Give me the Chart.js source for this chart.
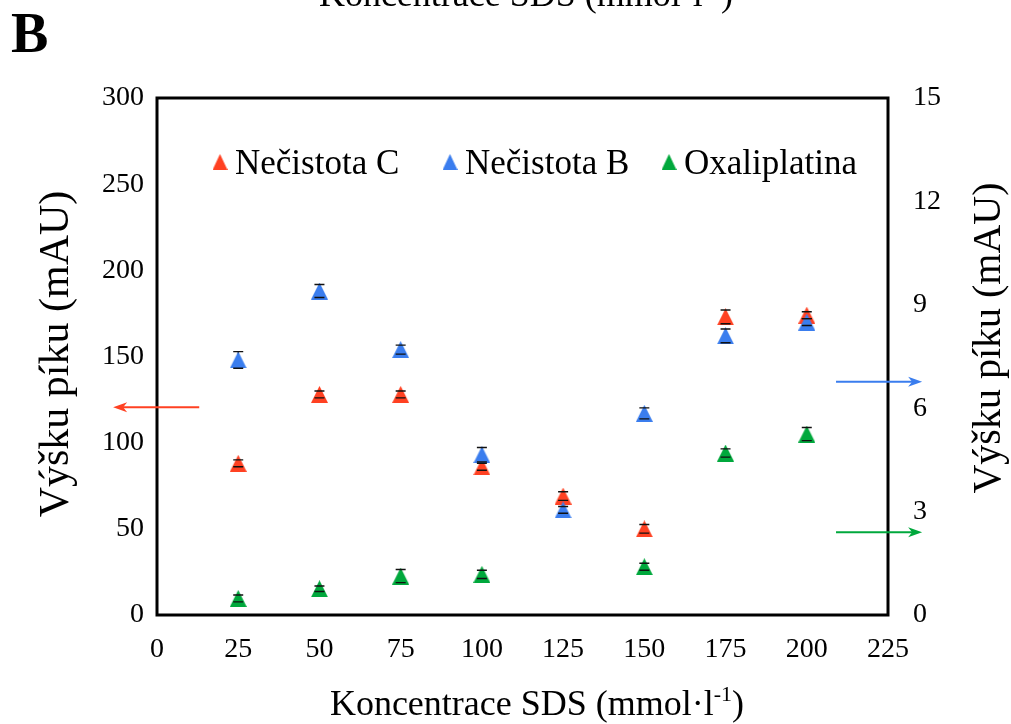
<!DOCTYPE html>
<html><head><meta charset="utf-8">
<script src="https://cdn.jsdelivr.net/npm/chart.js@4.4.1/dist/chart.umd.min.js"></script>
<style>html,body{margin:0;padding:0;background:#fff;overflow:hidden}#wrap{width:1011px;height:724px;position:relative}</style>
</head><body><div id="wrap"><canvas id="c" width="1011" height="724"></canvas></div>
<script>
// ---- data ----
const concentrations = [25, 50, 75, 100, 125, 150, 175, 200];
const necistotaC = [88, 128, 128, 86, 69, 50, 173, 174];          // left axis (mAU)
const necistotaCErr = [2, 2, 2, 2, 2.5, 2.5, 4, 2];
const necistotaB = [7.4, 9.4, 7.7, 4.65, 3.05, 5.85, 8.1, 8.5];     // right axis (mAU)
const necistotaBErr = [0.24, 0.19, 0.13, 0.21, 0.1, 0.16, 0.2, 0.1];
const oxaliplatina = [0.48, 0.76, 1.13, 1.18, null, 1.4, 4.7, 5.25]; // right axis (mAU)
const oxaliplatinaErr = [0.1, 0.08, 0.19, 0.12, null, 0.1, 0.12, 0.19];
const xTicks = [0, 25, 50, 75, 100, 125, 150, 175, 200, 225];
const leftTicks = [0, 50, 100, 150, 200, 250, 300];
const rightTicks = [0, 3, 6, 9, 12, 15];
const seriesNames = ['Nečistota C', 'Nečistota B', 'Oxaliplatina'];
const xTitle = 'Koncentrace SDS (mmol·l';
const xTitleSup = '-1';
const yTitle = 'Výšku píku (mAU)';
const panelLabel = 'B';

// ---- styles ----
const COLORS = ['#FF4122', '#3A7DEE', '#00A83C'];
const FONT = '"Liberation Serif", "Times New Roman", serif';

function triangleImage(color, w, h) {
  const cv = document.createElement('canvas');
  cv.width = w; cv.height = h;
  const g = cv.getContext('2d');
  g.fillStyle = color;
  g.beginPath(); g.moveTo(w / 2, 0); g.lineTo(w, h); g.lineTo(0, h); g.closePath(); g.fill();
  return cv;
}

const pts = (ys) => concentrations.map((x, i) => ({ x: x, y: ys[i] }));
const errs = [necistotaCErr, necistotaBErr, oxaliplatinaErr];

// annotation arrows (data coordinates of their axes)
const arrows = [
  { color: COLORS[0], axis: 'y', y: 120.5, from: 13, to: -13.5 },
  { color: COLORS[1], axis: 'y1', y: 6.77, from: 209, to: 235.5 },
  { color: COLORS[2], axis: 'y1', y: 2.4, from: 209, to: 235.5 }
];

function drawArrow(ctx, x0, y, x1, color) {
  const dir = Math.sign(x1 - x0);
  ctx.save();
  ctx.strokeStyle = color; ctx.fillStyle = color; ctx.lineWidth = 2;
  ctx.beginPath(); ctx.moveTo(x0, y); ctx.lineTo(x1 - dir * 8, y); ctx.stroke();
  ctx.beginPath();
  ctx.moveTo(x1, y);
  ctx.lineTo(x1 - dir * 14, y - 5);
  ctx.lineTo(x1 - dir * 10, y);
  ctx.lineTo(x1 - dir * 14, y + 5);
  ctx.closePath(); ctx.fill();
  ctx.restore();
}

function drawXTitle(ctx, cx, baseline, size) {
  ctx.save();
  ctx.fillStyle = '#000';
  ctx.textBaseline = 'alphabetic';
  ctx.textAlign = 'left';
  ctx.font = size + 'px ' + FONT;
  const w1 = ctx.measureText(xTitle).width;
  const w3 = ctx.measureText(')').width;
  ctx.font = Math.round(size * 0.62) + 'px ' + FONT;
  const w2 = ctx.measureText(xTitleSup).width;
  let x = cx - (w1 + w2 + w3) / 2;
  ctx.font = size + 'px ' + FONT;
  ctx.fillText(xTitle, x, baseline);
  x += w1;
  ctx.font = Math.round(size * 0.62) + 'px ' + FONT;
  ctx.fillText(xTitleSup, x, baseline - size * 0.38);
  x += w2;
  ctx.font = size + 'px ' + FONT;
  ctx.fillText(')', x, baseline);
  ctx.restore();
}

function eachErr(chart, fn) {
  const xs = chart.scales.x;
  chart.data.datasets.forEach((ds, i) => {
    const ys = chart.scales[ds.yAxisID];
    ds.data.forEach((p, j) => {
      const e = errs[i][j];
      if (p.y == null || e == null) return;
      fn(xs.getPixelForValue(p.x), ys.getPixelForValue(p.y + e), ys.getPixelForValue(p.y - e));
    });
  });
}

const decor = {
  id: 'decor',
  beforeDatasetsDraw(chart) {
    const ctx = chart.ctx;
    ctx.save();
    ctx.strokeStyle = '#000'; ctx.lineWidth = 1.2;
    eachErr(chart, (px, t, b) => {
      ctx.beginPath(); ctx.moveTo(px, t); ctx.lineTo(px, b); ctx.stroke();
    });
    ctx.restore();
  },
  afterDatasetsDraw(chart) {
    const ctx = chart.ctx;
    ctx.save();
    ctx.strokeStyle = '#111'; ctx.lineWidth = 1.4;
    eachErr(chart, (px, t, b) => {
      ctx.beginPath();
      ctx.moveTo(px - 5, t); ctx.lineTo(px + 5, t);
      ctx.moveTo(px - 5, b); ctx.lineTo(px + 5, b);
      ctx.stroke();
    });
    ctx.restore();
  },
  afterDraw(chart) {
    const ctx = chart.ctx;
    const a = chart.chartArea;
    ctx.save();
    // plot frame
    ctx.strokeStyle = '#000'; ctx.lineWidth = 3;
    ctx.strokeRect(a.left, a.top, a.right - a.left, a.bottom - a.top);
    // legend inside plot area
    const legendX = [220, 450, 669];
    ctx.font = '35px ' + FONT; ctx.textBaseline = 'alphabetic'; ctx.textAlign = 'left'; ctx.fillStyle = '#000';
    chart.data.datasets.forEach((ds, i) => {
      const img = ds.legendImg;
      ctx.drawImage(img, legendX[i] - img.width / 2, 162 - img.height / 2);
      ctx.fillStyle = '#000';
      ctx.fillText(ds.label, legendX[i] + 15, 174);
    });
    // arrows
    arrows.forEach(ar => {
      const ys = chart.scales[ar.axis];
      drawArrow(ctx, chart.scales.x.getPixelForValue(ar.from), ys.getPixelForValue(ar.y), chart.scales.x.getPixelForValue(ar.to), ar.color);
    });
    // axis titles
    ctx.fillStyle = '#000';
    ctx.textAlign = 'center'; ctx.textBaseline = 'middle';
    ctx.font = '42px ' + FONT;
    ctx.save(); ctx.translate(57, 354); ctx.rotate(-Math.PI / 2); ctx.fillText(yTitle, 0, 0); ctx.restore();
    ctx.font = '40px ' + FONT;
    ctx.save(); ctx.translate(989, 338); ctx.rotate(-Math.PI / 2); ctx.fillText(yTitle, 0, 0); ctx.restore();
    drawXTitle(ctx, 537, 715, 36);
    // cut-off title of the panel above
    drawXTitle(ctx, 526, 6, 36);
    // panel label
    ctx.font = 'bold 56px ' + FONT; ctx.textAlign = 'left'; ctx.textBaseline = 'alphabetic';
    ctx.fillText(panelLabel, 11, 52);
    ctx.restore();
  }
};

const tickFont = { family: FONT, size: 28 };
const mkSet = (i, data, axis, order) => ({
  label: seriesNames[i], data: data, yAxisID: axis, order: order,
  pointStyle: triangleImage(COLORS[i], 17, 17), legendImg: triangleImage(COLORS[i], 15, 16),
  backgroundColor: COLORS[i], borderColor: COLORS[i]
});
new Chart(document.getElementById('c'), {
  type: 'scatter',
  data: {
    datasets: [
      mkSet(0, pts(necistotaC), 'y', 2),
      mkSet(1, pts(necistotaB), 'y1', 1),
      mkSet(2, pts(oxaliplatina), 'y1', 0)
    ]
  },
  options: {
    responsive: false, animation: false, devicePixelRatio: 1,
    layout: { padding: { top: 98, left: 0, right: 0, bottom: 0 } },
    plugins: { legend: { display: false }, tooltip: { enabled: false } },
    scales: {
      x: {
        type: 'linear', min: 0, max: 225,
        afterBuildTicks: s => { s.ticks = xTicks.map(v => ({ value: v })); },
        afterFit: s => { s.height = 109; },
        grid: { display: false, drawTicks: false }, border: { display: false },
        ticks: { font: tickFont, color: '#000', padding: 18, maxRotation: 0, autoSkip: false }
      },
      y: {
        type: 'linear', position: 'left', min: 0, max: 300,
        afterBuildTicks: s => { s.ticks = leftTicks.map(v => ({ value: v })); },
        afterFit: s => { s.width = 157; },
        grid: { display: false, drawTicks: false }, border: { display: false },
        ticks: { font: tickFont, color: '#000', padding: 13, autoSkip: false }
      },
      y1: {
        type: 'linear', position: 'right', min: 0, max: 15,
        afterBuildTicks: s => { s.ticks = rightTicks.map(v => ({ value: v })); },
        afterFit: s => { s.width = 123; },
        grid: { display: false, drawTicks: false }, border: { display: false },
        ticks: { font: tickFont, color: '#000', padding: 25, autoSkip: false }
      }
    }
  },
  plugins: [decor]
});
</script></body></html>
